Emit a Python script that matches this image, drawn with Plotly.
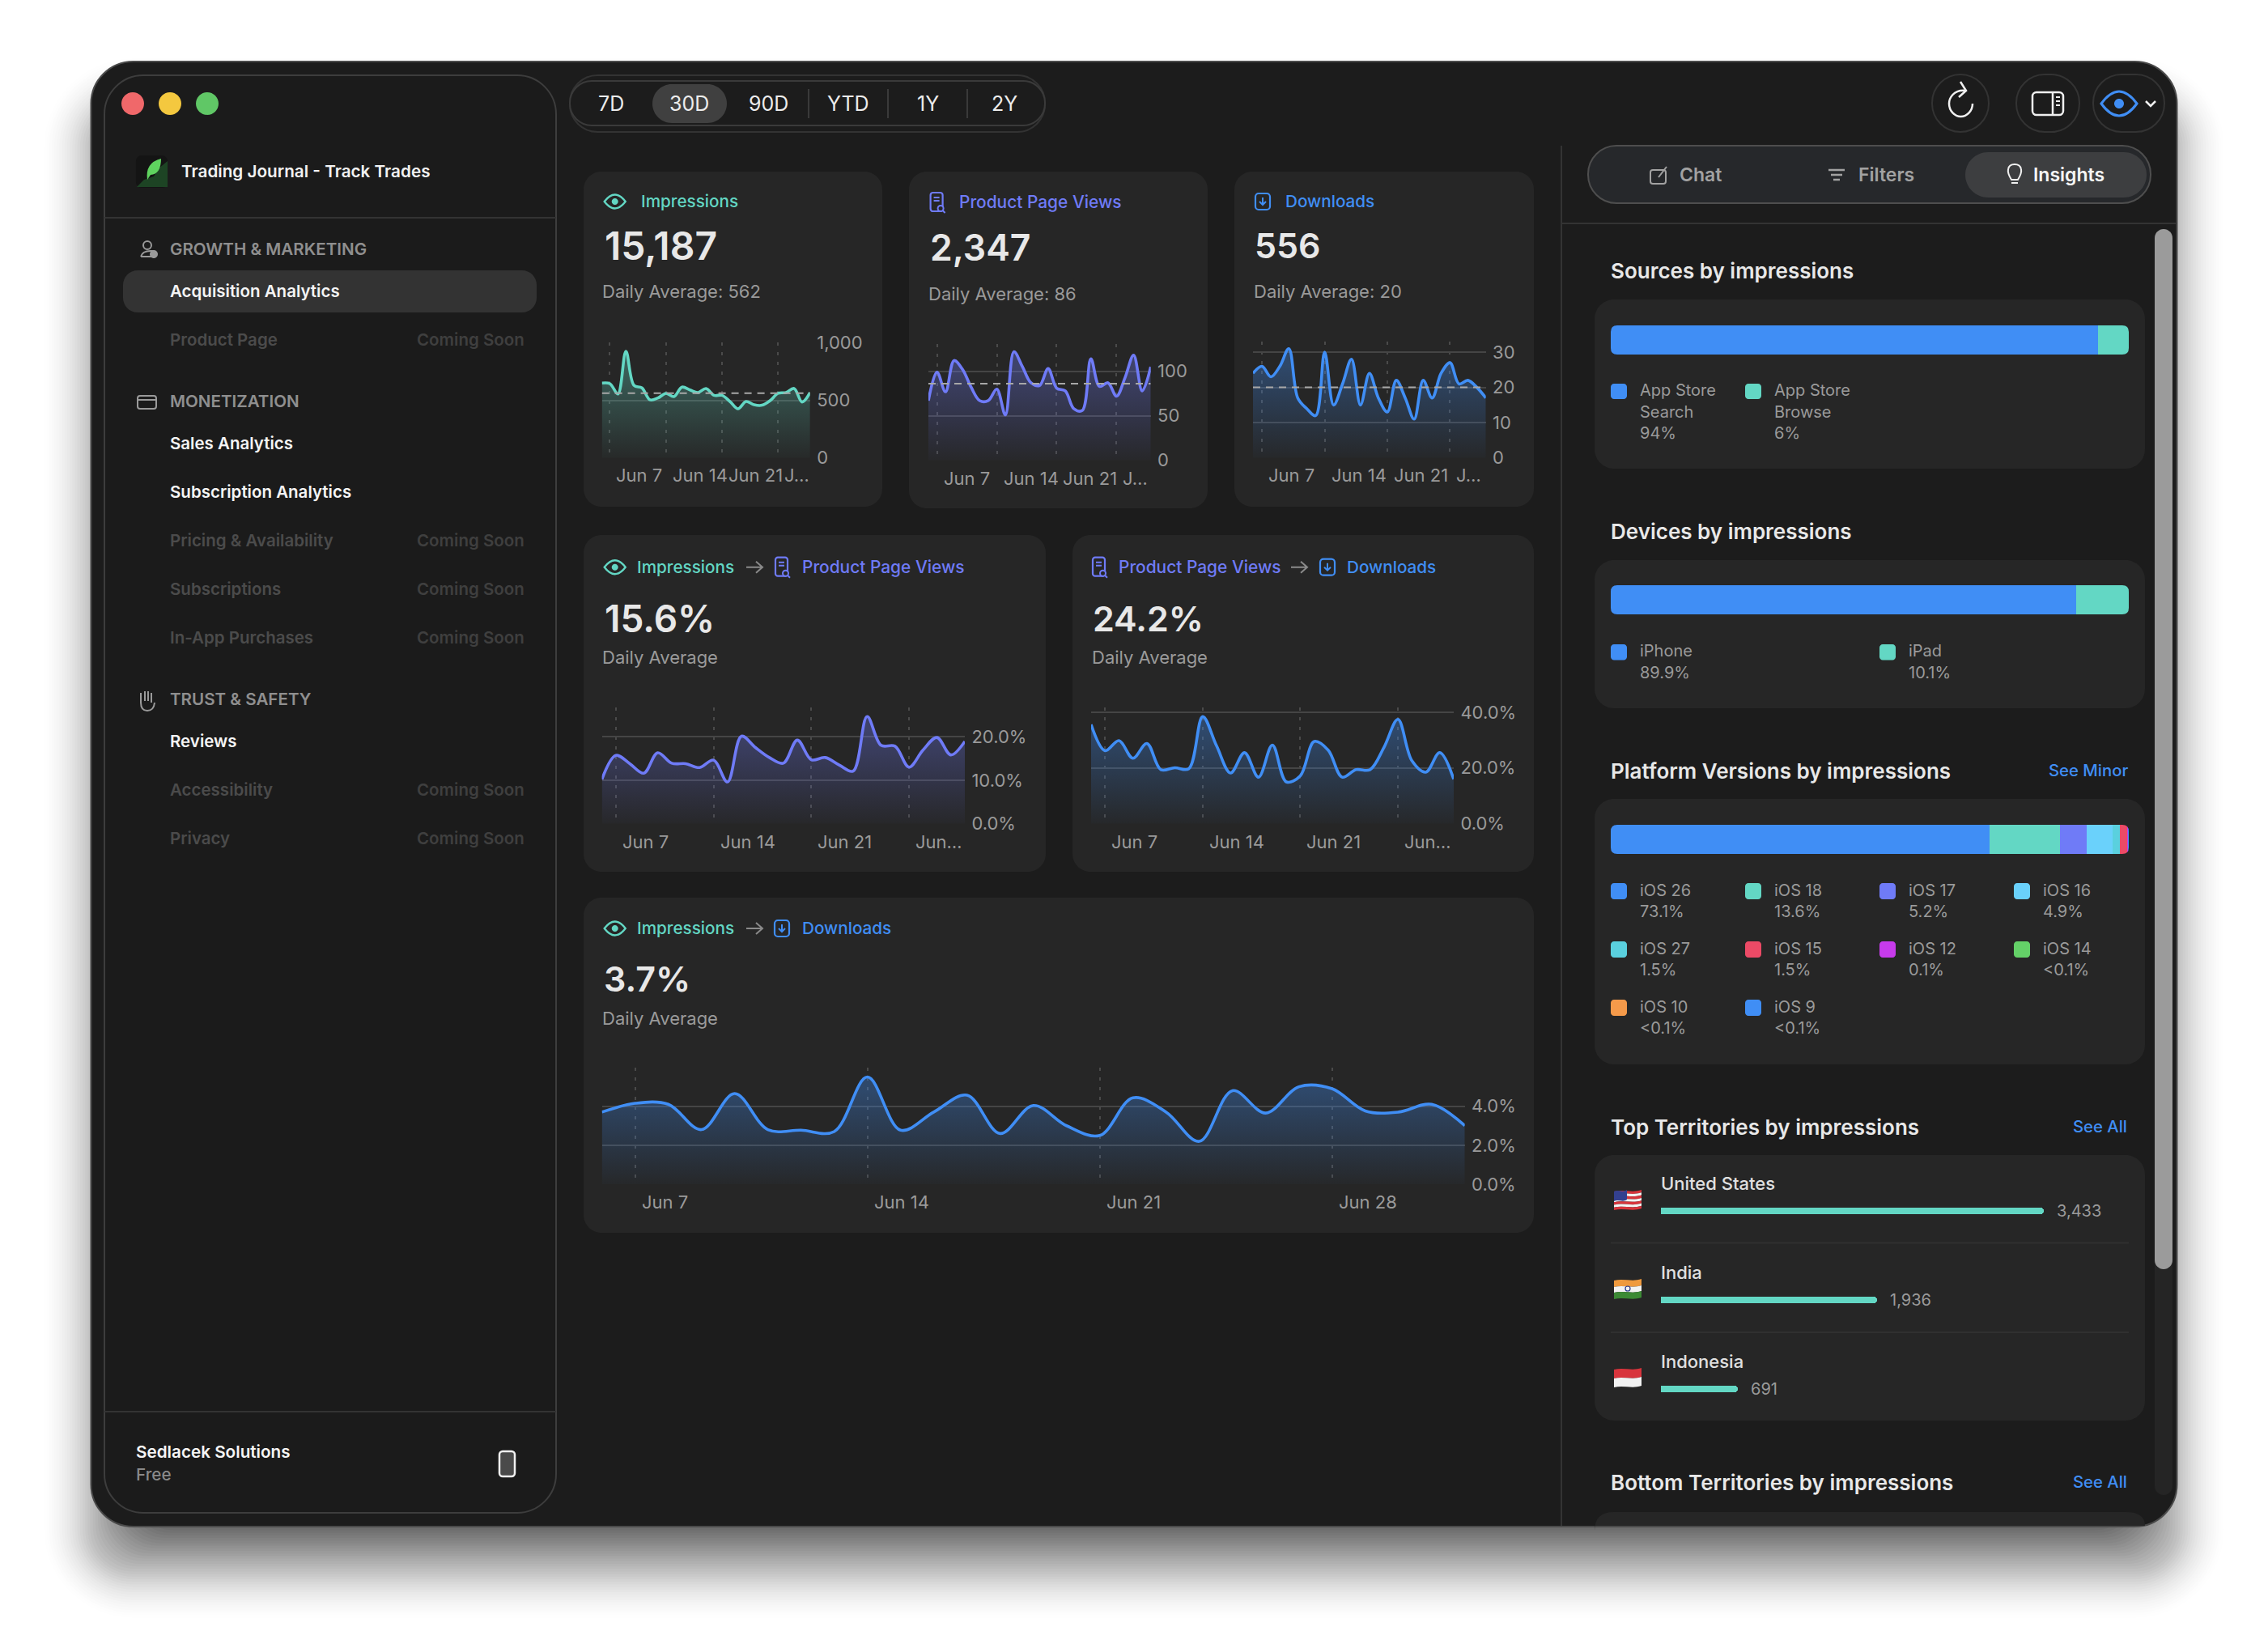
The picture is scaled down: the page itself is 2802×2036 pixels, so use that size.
import re
import pandas as pd
import plotly.graph_objects as go

W, H = 2802, 2036

# ---- data
dates = [d.strftime("%Y-%m-%d") for d in pd.date_range("2026-06-06", periods=27)]
week_ticks = ["2026-06-07", "2026-06-14", "2026-06-21", "2026-06-28"]

impressions = [649, 644, 555, 925, 630, 607, 504, 520, 560, 532, 614, 590, 567, 602, 543, 543, 489, 426, 489, 461, 457, 496, 560, 567, 602, 485, 567]
page_views = [67, 99, 77, 112, 102, 82, 67, 67, 80, 51, 122, 105, 87, 84, 103, 81, 78, 58, 56, 114, 83, 87, 72, 93, 118, 78, 105]
downloads = [24, 26, 23, 26, 31, 17, 14, 12, 30, 15, 21, 28, 15, 24, 17, 13, 22, 17, 11, 22, 17, 24, 27, 21, 22, 20, 17]
imp_to_views = [10.2, 15.7, 13.8, 11.6, 16.3, 13.9, 13.8, 12.9, 14.6, 9.6, 20.1, 17.5, 15.2, 13.9, 19.2, 14.7, 15.2, 13.5, 12.1, 24.6, 18.0, 17.8, 13.0, 16.9, 19.8, 15.8, 18.9]
views_to_dl = [35.6, 26.2, 29.8, 23.5, 28.8, 19.4, 20.1, 19.7, 38.4, 27.9, 18.2, 25.5, 16.7, 28.2, 15.0, 17.2, 29.5, 26.4, 16.7, 19.4, 19.4, 27.4, 37.4, 22.6, 18.5, 25.5, 16.0]
imp_to_dl = [3.7, 4.15, 4.1, 2.8, 4.65, 2.8, 2.77, 2.7, 5.5, 2.77, 3.7, 4.57, 2.6, 4.04, 3.0, 2.5, 4.43, 3.7, 2.2, 4.8, 3.65, 5.0, 4.9, 3.76, 3.7, 4.1, 3.0]

avg_impressions = 562
avg_views = 86
avg_downloads = 20

source_names = [["App Store", "Search", "94%"], ["App Store", "Browse", "6%"]]
source_vals = [94, 6]
device_names = [["iPhone", "89.9%"], ["iPad", "10.1%"]]
device_vals = [89.9, 10.1]
version_names = ["iOS 26", "iOS 18", "iOS 17", "iOS 16", "iOS 27", "iOS 15", "iOS 12", "iOS 14", "iOS 10", "iOS 9"]
version_labels = ["73.1%", "13.6%", "5.2%", "4.9%", "1.5%", "1.5%", "0.1%", "<0.1%", "<0.1%", "<0.1%"]
version_vals = [73.1, 13.6, 5.2, 4.9, 1.5, 1.5, 0.1, 0.03, 0.03, 0.03]
territories = ["United States", "India", "Indonesia"]
territory_vals = [3433, 1936, 691]

BLUE = "#408ef5"
TEAL = "#63d7c4"
PURPLE = "#6f7bf7"
version_colors = [BLUE, TEAL, PURPLE, "#6ad1fb", "#5ad0de", "#ec4a66", "#c73beb", "#64d168", "#f59a4a", BLUE]
BG = "#1c1c1c"
CARD = "#262626"
GREY = "#9a9a9a"
FONT = "Inter"

shapes = []
annots = []


def to_paper(d):
    flip = [0]

    def repl(m):
        v = float(m.group())
        flip[0] += 1
        if flip[0] % 2:
            return f"{v / W:.6f}"
        return f"{1 - v / H:.6f}"

    return re.sub(r"-?\d+\.?\d*", repl, d)


def shape(d, fill=None, line=None, width=0, layer="below"):
    shapes.append(dict(type="path", path=to_paper(d), xref="paper", yref="paper", layer=layer,
                       fillcolor=fill or "rgba(0,0,0,0)",
                       line=dict(color=line or "rgba(0,0,0,0)", width=width)))


def rr(x0, y0, x1, y1, r):
    k = r * 0.45
    return (f"M{x0 + r},{y0} L{x1 - r},{y0} C{x1 - k},{y0} {x1},{y0 + k} {x1},{y0 + r} "
            f"L{x1},{y1 - r} C{x1},{y1 - k} {x1 - k},{y1} {x1 - r},{y1} "
            f"L{x0 + r},{y1} C{x0 + k},{y1} {x0},{y1 - k} {x0},{y1 - r} "
            f"L{x0},{y0 + r} C{x0},{y0 + k} {x0 + k},{y0} {x0 + r},{y0} Z")


def box(x0, y0, x1, y1, r, fill=None, line=None, width=0, layer="below"):
    shape(rr(x0, y0, x1, y1, r), fill, line, width, layer)


def txt(x, y, s, size, color, weight=400, anchor="left"):
    if anchor == "left":
        x -= 1.5
    annots.append(dict(x=x / W, y=1 - (y - 0.5) / H, xref="paper", yref="paper", text=s, showarrow=False,
                       xanchor=anchor, yanchor="middle", borderpad=0,
                       font=dict(family=FONT, size=size, color=color, weight=weight)))


def eye(cx, cy, color, w=13, h=17, ring=4.0, width=2.4):
    shape(f"M{cx - w},{cy} Q{cx},{cy - h} {cx + w},{cy} Q{cx},{cy + h} {cx - w},{cy} Z", None, color, width)
    box(cx - ring, cy - ring, cx + ring, cy + ring, ring, color)


def doc_icon(cx, cy, color):
    box(cx - 8, cy - 12, cx + 7, cy + 11, 3, None, color, 2.2)
    shape(f"M{cx - 4},{cy - 6} L{cx + 3},{cy - 6} M{cx - 4},{cy - 2} L{cx + 3},{cy - 2}", None, color, 2)
    box(cx + 1, cy + 4, cx + 8, cy + 11, 3.5, CARD, color, 2)
    shape(f"M{cx + 7},{cy + 10} L{cx + 10},{cy + 13}", None, color, 2)


def dl_icon(cx, cy, color):
    box(cx - 9, cy - 10, cx + 9, cy + 10, 4, None, color, 2.2)
    shape(f"M{cx},{cy - 5} L{cx},{cy + 4} M{cx - 4},{cy} L{cx},{cy + 4} L{cx + 4},{cy}", None, color, 2)


def arrow(x0, x1, y):
    shape(f"M{x0},{y} L{x1},{y} M{x1 - 8},{y - 7} L{x1},{y} L{x1 - 8},{y + 7}", None, "#8a8a8a", 2)


def flag_band(x0, x1, y0, y1, color):
    a, b = x0 + (x1 - x0) / 3, x0 + (x1 - x0) * 2 / 3
    shape(f"M{x0},{y0 + 1} C{a},{y0 - 2} {b},{y0 + 3} {x1},{y0 - 1} L{x1},{y1 - 1} "
          f"C{b},{y1 + 3} {a},{y1 - 2} {x0},{y1 + 1} Z", color)


# ---- page shadow and window
for i in range(48):
    t = i / 47
    spread = 58 - 150 * t
    r = 52 + max(spread, 0)
    box(112 - spread, 75 + 55 - spread, 2690 + spread, 1886 + 55 + spread, r, f"rgba(0,0,0,{0.004 + 0.05 * t:.4f})")
box(112.5, 76, 2689.5, 1886, 52, BG, "#4a4a4a", 2)

# ---- sidebar
box(129, 93, 687, 1869, 48, "#1b1b1b", "#3d3d3d", 2)
for cx, col in zip([164, 210, 256], ["#f0686a", "#f4c83f", "#60c766"]):
    box(cx - 14, 128 - 14, cx + 14, 128 + 14, 14, col)
box(168, 192, 207, 232, 7, "#141414")
shape("M169,231 L178,222 L190,218 L196,208 L207,199 L207,231 L169,231 Z", "#1d4424")
shape("M182,222 Q179,201 199,196 Q199,215 186,216 Z", "#5fd35f")
txt(224, 212, "Trading Journal - Track Trades", 20.7, "#f2f2f2", 600)
shape("M129,269 L687,269", None, "#333333", 2)

box(152, 334, 663, 386, 18, "#333333")
nav_items = [("Acquisition Analytics", 359.5, True), ("Product Page", 420, False), ("Sales Analytics", 547.7, True),
             ("Subscription Analytics", 607.7, True), ("Pricing & Availability", 668, False), ("Subscriptions", 728, False),
             ("In-App Purchases", 788, False), ("Reviews", 916, True), ("Accessibility", 976, False), ("Privacy", 1036, False)]
for name, y, live in nav_items:
    txt(210.5, y, name, 20.5, "#f5f5f5" if live else "#4b4b4b", 600)
    if not live:
        txt(648.5, y, "Coming Soon", 20.5, "#3f3f3f", 600, "right")
for name, y in [("GROWTH & MARKETING", 307.7), ("MONETIZATION", 495.7), ("TRUST & SAFETY", 864)]:
    txt(210.5, y, name, 20.6, "#8f8f8f", 600)
# section icons
box(177, 298, 187, 308, 5, None, "#9a9a9a", 2)
shape("M174,317 Q176,310 186,310 L190,310 M174,317 L188,317", None, "#9a9a9a", 2)
box(185, 309, 195, 319, 5, "#9a9a9a")
box(170, 489, 193, 505, 3, None, "#9a9a9a", 2)
shape("M170,494 L193,494", None, "#9a9a9a", 2)
shape("M174,856 L174,868 Q174,878 182,878 Q190,878 191,868 M174,860 L174,868 M179,854 L179,866 M183,854 L183,866 M187,856 L187,868", None, "#9a9a9a", 2)

shape("M129,1744 L687,1744", None, "#333333", 2)
txt(168.5, 1794, "Sedlacek Solutions", 20.7, "#f5f5f5", 600)
txt(168.5, 1822, "Free", 20.7, "#8a8a8a", 500)
box(617, 1793, 636, 1824, 4, "#4a4a4a", "#f0f0f0", 2.5)

# ---- toolbar
box(704, 93, 1291, 163, 34, None, "#333333", 2)
box(704, 100, 1291, 155, 27, BG, "#3a3a3a", 2)
box(806, 104, 898, 152, 24, "#404040")
for label, cx in zip(["7D", "30D", "90D", "YTD", "1Y", "2Y"], [755, 851, 949, 1047.5, 1146, 1241]):
    txt(cx, 128, label, 25, "#ececec", 400, "center")
for x in [999, 1097, 1195]:
    shape(f"M{x},110 L{x},146", None, "#3a3a3a", 2)

for x0, x1 in [(2387, 2457), (2491, 2569), (2586, 2674)]:
    box(x0, 92, x1, 163, 35, None, "#333333", 2)
shape("M2429,112 C2413,110 2408,122 2408,128 C2408,137 2415,144 2422.5,144 C2430,144 2437,137 2437,128", None, "#f0f0f0", 2.5)
shape("M2422,101 L2429,112 L2420,120", None, "#f0f0f0", 2.5)
box(2511, 114, 2549, 142, 5, None, "#f0f0f0", 2.5)
shape("M2536,114 L2536,142", None, "#f0f0f0", 2.5)
shape("M2540,120 L2545,120 M2540,125 L2545,125 M2540,130 L2545,130", None, "#f0f0f0", 2)
eye(2618, 128, BLUE, 22, 30, 6, 3)
shape("M2651,125 L2657,131 L2663,125", None, "#f0f0f0", 2.5)

# ---- right panel frame
shape("M1929,180 L1929,1885", None, "#333333", 2)
shape("M1929,276 L2688,276", None, "#333333", 2)
box(1962, 180, 2657, 251, 35, "#26282b", "#4e4e4e", 2)
box(2428, 188, 2652, 244, 28, "#3d3e40")
txt(2075.6, 216.5, "Chat", 23, "#a2a2a2", 600)
txt(2296.5, 216.5, "Filters", 23, "#a2a2a2", 600)
txt(2512, 216.5, "Insights", 23, "#f5f5f5", 600)
box(2039, 210, 2058, 227, 3, None, "#a2a2a2", 2)
shape("M2049,219 L2059,206", None, "#a2a2a2", 2)
shape("M2259,210 L2279,210 M2262,216 L2276,216 M2265,222 L2273,222", None, "#a2a2a2", 2.4)
shape("M2485,222 Q2480,214 2481,209 Q2482,203 2489,203 Q2496,203 2497,209 Q2498,214 2493,222 Z", None, "#f0f0f0", 2)
shape("M2485,226 L2493,226", None, "#f0f0f0", 2)
box(2662, 283, 2684, 1847, 11, "#252525")
box(2662, 283, 2684, 1568, 11, "#9b9b9b")

# ---- chart cards
for x0, y0, x1, y1 in [(721, 212, 1090, 626), (1123, 212, 1492, 628), (1525, 212, 1895, 626),
                       (721, 661, 1292, 1077), (1325, 661, 1895, 1077), (721, 1109, 1895, 1523)]:
    box(x0, y0, x1, y1, 22, CARD)

eye(759.7, 249, TEAL)
txt(792, 249, "Impressions", 20.7, TEAL, 500)
txt(747, 304, "15,187", 48, "#e8e8e8", 600)
txt(744.4, 360.7, f"Daily Average: {avg_impressions}", 22, GREY)
doc_icon(1157.6, 250, PURPLE)
txt(1185, 250, "Product Page Views", 20.9, PURPLE, 500)
txt(1149, 306.7, "2,347", 44.5, "#e8e8e8", 600)
txt(1147.7, 363, f"Daily Average: {avg_views}", 22, GREY)
dl_icon(1560, 249, BLUE)
txt(1588.5, 249, "Downloads", 20.7, BLUE, 500)
txt(1551, 304, "556", 43, "#e8e8e8", 600)
txt(1549.5, 360.7, f"Daily Average: {avg_downloads}", 22, GREY)

eye(759.7, 700.7, TEAL)
txt(787, 700.7, "Impressions", 20.7, TEAL, 500)
arrow(922, 942, 700.7)
doc_icon(966, 700.7, PURPLE)
txt(991, 700.7, "Product Page Views", 20.9, PURPLE, 500)
txt(747, 765, "15.6%", 46, "#e8e8e8", 600)
txt(744.4, 812.5, "Daily Average", 22, GREY)

doc_icon(1358, 700.7, PURPLE)
txt(1382, 700.7, "Product Page Views", 20.9, PURPLE, 500)
arrow(1595, 1615, 700.7)
dl_icon(1640, 700.7, BLUE)
txt(1664, 700.7, "Downloads", 20.7, BLUE, 500)
txt(1350.5, 765, "24.2%", 43, "#e8e8e8", 600)
txt(1349, 812.5, "Daily Average", 22, GREY)

eye(759.7, 1147, TEAL)
txt(787, 1147, "Impressions", 20.7, TEAL, 500)
arrow(922, 942, 1147)
dl_icon(966, 1147, BLUE)
txt(991.6, 1147, "Downloads", 20.7, BLUE, 500)
txt(746, 1209.5, "3.7%", 43, "#e8e8e8", 600)
txt(744.4, 1258, "Daily Average", 22, GREY)

# ---- line charts
fig = go.Figure()
layout_axes = {}


def add_axes(n, x0, x1, y0, y1, xrange, yrange, extra_x=None, extra_y=None):
    xa = dict(domain=[x0 / W, x1 / W], range=xrange, anchor=f"y{n}", showticklabels=False, ticks="",
              zeroline=False, showline=False, showgrid=False, fixedrange=True)
    ya = dict(domain=[1 - y1 / H, 1 - y0 / H], range=yrange, anchor=f"x{n}", showticklabels=False, ticks="",
              zeroline=False, showline=False, showgrid=False, fixedrange=True)
    xa.update(extra_x or {})
    ya.update(extra_y or {})
    layout_axes[f"xaxis{n}"] = xa
    layout_axes[f"yaxis{n}"] = ya


def line_chart(n, vals, color, rgb, x0, x1, y0, y1, ytop, yticks, ylabels, xlabels, xlabel_y, avg=None):
    add_axes(n, x0, x1, y0, y1, [dates[0], dates[-1]], [0, ytop],
             dict(type="date", tickvals=week_ticks, showgrid=True, griddash="4px,8px", gridcolor="#4a4a4a", gridwidth=1.5),
             dict(side="right", tickvals=yticks, ticktext=ylabels, showticklabels=True, showgrid=True,
                  gridcolor="#454545", gridwidth=2, ticks="outside", ticklen=3, tickcolor="rgba(0,0,0,0)",
                  tickfont=dict(family=FONT, size=22, color=GREY)))
    fig.add_trace(go.Scatter(
        x=dates, y=vals, xaxis=f"x{n}", yaxis=f"y{n}", mode="lines", cliponaxis=False,
        line=dict(color=color, width=3.6, shape="spline", smoothing=1.0),
        fill="tozeroy",
        fillgradient=dict(type="vertical", start=0, stop=ytop * 0.8,
                          colorscale=[[0, f"rgba({rgb},0.02)"], [1, f"rgba({rgb},0.33)"]]),
        showlegend=False, hoverinfo="x+y"))
    if avg is not None:
        fig.add_trace(go.Scatter(x=[dates[0], dates[-1]], y=[avg, avg], xaxis=f"x{n}", yaxis=f"y{n}", mode="lines",
                                 line=dict(color="#a8a8a8", width=2, dash="9px,7px"), showlegend=False, hoverinfo="skip"))
    for d, label in zip(week_ticks, xlabels):
        annots.append(dict(x=d, y=1 - (xlabel_y - 1) / H, xref=f"x{n}", yref="paper", text=label, showarrow=False,
                           xanchor="left", yanchor="middle", xshift=7, borderpad=0,
                           font=dict(family=FONT, size=22, color=GREY)))


line_chart(1, impressions, TEAL, "99,215,196", 743.6, 1000.8, 423.3, 565.7, 1000, [0, 500, 1000], ["0", "500", "1,000"],
           ["Jun 7", "Jun 14", "Jun 21", "J…"], 588, avg_impressions)
line_chart(2, page_views, PURPLE, "111,123,247", 1147, 1421.7, 425, 568.7, 130.6, [0, 50, 100], ["0", "50", "100"],
           ["Jun 7", "Jun 14", "Jun 21", "J…"], 591.7, avg_views)
line_chart(3, downloads, BLUE, "64,142,245", 1548, 1835.7, 422, 565.7, 33, [0, 10, 20, 30], ["0", "10", "20", "30"],
           ["Jun 7", "Jun 14", "Jun 21", "J…"], 588, avg_downloads)
line_chart(4, imp_to_views, PURPLE, "111,123,247", 743.6, 1192, 874, 1017.7, 26.7, [0, 10, 20], ["0.0%", "10.0%", "20.0%"],
           ["Jun 7", "Jun 14", "Jun 21", "Jun…"], 1040.7)
line_chart(5, views_to_dl, BLUE, "64,142,245", 1348, 1796, 874, 1017.7, 41.7, [0, 20, 40], ["0.0%", "20.0%", "40.0%"],
           ["Jun 7", "Jun 14", "Jun 21", "Jun…"], 1040.7)
line_chart(6, imp_to_dl, BLUE, "64,142,245", 743.6, 1809.7, 1319, 1463, 5.98, [0, 2, 4], ["0.0%", "2.0%", "4.0%"],
           ["Jun 7", "Jun 14", "Jun 21", "Jun 28"], 1486)


# ---- stacked bars on the right
def stacked_bar(n, vals, colors, y0, y1):
    add_axes(n, 1990, 2630, y0, y1, [0, sum(vals)], [-0.5, 0.5])
    for v, c in zip(vals, colors):
        fig.add_trace(go.Bar(x=[v], y=[0], orientation="h", width=1, xaxis=f"x{n}", yaxis=f"y{n}",
                             marker=dict(color=c, line=dict(width=0)), showlegend=False, hoverinfo="x"))
    r = 8
    for cx, cy, sx, sy in [(1990, y0, 1, 1), (2630, y0, -1, 1), (1990, y1, 1, -1), (2630, y1, -1, -1)]:
        shape(f"M{cx},{cy} L{cx + sx * r},{cy} Q{cx},{cy} {cx},{cy + sy * r} Z", CARD, layer="above")


def swatch(x, y0, y1, color):
    box(x, y0, x + 20, y1, 4, color)


txt(1990, 335, "Sources by impressions", 26, "#e8e8e8", 600)
box(1970, 370, 2650, 579, 24, CARD)
stacked_bar(7, source_vals, [BLUE, TEAL], 402, 438)
for (x, lines, c) in zip([1990, 2156], source_names, [BLUE, TEAL]):
    swatch(x, 474, 493, c)
    for ln, y in zip(lines, [483, 509, 535]):
        txt(x + 36, y, ln, 20, GREY)

txt(1990, 656.6, "Devices by impressions", 26, "#e8e8e8", 600)
box(1970, 692, 2650, 875, 24, CARD)
stacked_bar(8, device_vals, [BLUE, TEAL], 723, 759)
for (x, lines, c) in zip([1990, 2322], device_names, [BLUE, TEAL]):
    swatch(x, 796, 815.5, c)
    for ln, y in zip(lines, [805, 831]):
        txt(x + 36, y, ln, 20, GREY)

txt(1990, 952.6, "Platform Versions by impressions", 26, "#e8e8e8", 600)
txt(2630, 952, "See Minor", 20.3, BLUE, 500, "right")
box(1970, 987, 2650, 1315, 24, CARD)
stacked_bar(9, version_vals, version_colors, 1019, 1055)
for i, (name, label, c) in enumerate(zip(version_names, version_labels, version_colors)):
    x = [1990, 2156, 2322, 2488][i % 4]
    row = i // 4
    swatch(x, 1091 + row * 72, 1111 + row * 72, c)
    txt(x + 36, 1100.8 + row * 72, name, 20, GREY)
    txt(x + 36, 1126.7 + row * 72, label, 20, GREY)

# ---- territories
txt(1990, 1393, "Top Territories by impressions", 26, "#e8e8e8", 600)
txt(2629, 1391.5, "See All", 20.3, BLUE, 500, "right")
box(1970, 1427, 2650, 1755, 24, CARD)
shape("M1990,1535.5 L2630,1535.5", None, "#303030", 2)
shape("M1990,1646 L2630,1646", None, "#303030", 2)
add_axes(10, 2052, 2525, 1441, 1771, [0, max(territory_vals)], [2.5, -0.5])
fig.add_trace(go.Bar(x=territory_vals, y=[0, 1, 2], orientation="h", width=8 / 110, xaxis="x10", yaxis="y10",
                     marker=dict(color=TEAL, cornerradius=4, line=dict(width=0)), showlegend=False, hoverinfo="x"))
for name, val, yn, yv in zip(territories, territory_vals, [1462, 1572, 1682], [1497, 1607, 1717]):
    txt(2052.6, yn, name, 22, "#e0e0e0", 500)
    annots.append(dict(x=val, xref="x10", y=1 - (yv - 1) / H, yref="paper", text=f"{val:,}", showarrow=False,
                       xanchor="left", yanchor="middle", xshift=15, borderpad=0,
                       font=dict(family=FONT, size=20, color=GREY)))

# flags
for j in range(7):
    y = 1471 + j * 3.3
    flag_band(1994, 2028, y, y + 3.3, "#d8343c" if j % 2 == 0 else "#f2f2f2")
flag_band(1994, 2010, 1471, 1483, "#33408f")
flag_band(1994, 2028, 1581, 1589, "#ef9a3e")
flag_band(1994, 2028, 1589, 1596, "#f2f2f2")
flag_band(1994, 2028, 1596, 1604, "#3c8a35")
box(2008, 1589, 2014, 1595, 3, None, "#2c3a8c", 1.2)
flag_band(1994, 2028, 1691, 1702, "#d8343c")
flag_band(1994, 2028, 1702, 1713, "#f2f2f2")

txt(1990, 1832, "Bottom Territories by impressions", 26, "#e8e8e8", 600)
txt(2629, 1831, "See All", 20.3, BLUE, 500, "right")
shape("M1970,1885 L1970,1891 Q1970,1868 1994,1868 L2626,1868 Q2650,1868 2650,1885 Z", CARD)

fig.update_layout(
    width=W, height=H, margin=dict(l=0, r=0, t=0, b=0, autoexpand=False),
    paper_bgcolor="white", plot_bgcolor="rgba(0,0,0,0)",
    barmode="stack", bargap=0, showlegend=False,
    font=dict(family=FONT), shapes=shapes, annotations=annots, **layout_axes)

fig.write_html("out.html", config=dict(displayModeBar=False),
               post_script="document.body.style.margin='0';")
